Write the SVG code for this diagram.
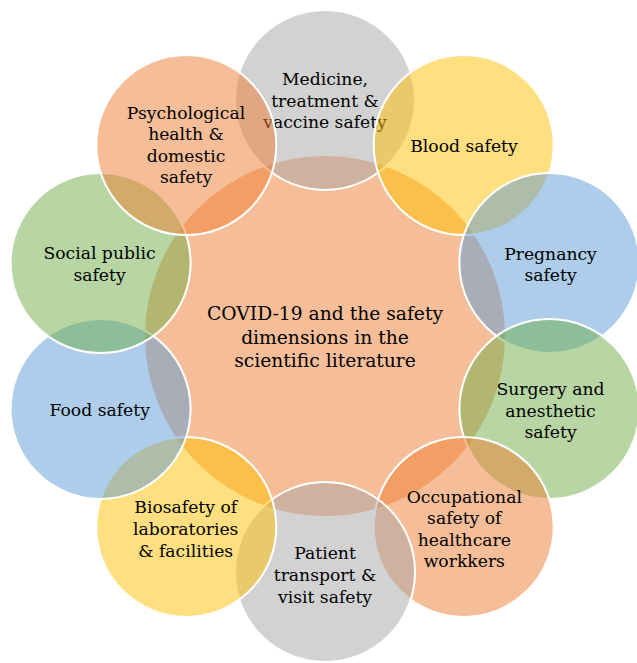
<svg xmlns="http://www.w3.org/2000/svg" width="637" height="663" viewBox="0 0 637 663">
<style>
  .c { stroke: #FFFFFF; stroke-width: 2; fill-opacity: 0.5; }
  .gray { fill: #A5A5A5; }
  .gold { fill: #FFC000; }
  .blue { fill: #5B9BD5; }
  .green { fill: #70AD47; }
  .orange { fill: #ED7D31; }
  text { font-family: "DejaVu Serif", "Liberation Serif", serif; font-size: 17.2px; fill: #000000; text-anchor: middle; }
  .big { font-size: 18.7px; }
</style>
<rect width="637" height="663" fill="#FFFFFF"/>
<g id="connectors"/>
<g id="center">
  <circle class="c orange" cx="325" cy="336" r="181"/>
  <text class="big" x="325" y="320">COVID-19 and the safety</text>
  <text class="big" x="325" y="344">dimensions in the</text>
  <text class="big" x="325" y="367">scientific literature</text>
</g>
<g id="medicine">
  <circle class="c gray" cx="325" cy="100" r="90"/>
  <text x="325" y="85">Medicine,</text>
  <text x="325" y="106.5">treatment &amp;</text>
  <text x="325" y="128">vaccine safety</text>
</g>
<g id="blood">
  <circle class="c gold" cx="463.7" cy="145.1" r="90"/>
  <text x="464" y="151.5">Blood safety</text>
</g>
<g id="pregnancy">
  <circle class="c blue" cx="549.4" cy="263.1" r="90"/>
  <text x="550.5" y="259.5">Pregnancy</text>
  <text x="550.5" y="281">safety</text>
</g>
<g id="surgery">
  <circle class="c green" cx="549.4" cy="408.9" r="90"/>
  <text x="550.5" y="395">Surgery and</text>
  <text x="550.5" y="416.7">anesthetic</text>
  <text x="550.5" y="438.3">safety</text>
</g>
<g id="occupational">
  <circle class="c orange" cx="463.7" cy="526.9" r="90"/>
  <text x="464.3" y="502.7">Occupational</text>
  <text x="464.3" y="524.2">safety of</text>
  <text x="464.3" y="545.8">healthcare</text>
  <text x="464.3" y="567.3">workkers</text>
</g>
<g id="patient">
  <circle class="c gray" cx="325" cy="572" r="90"/>
  <text x="325" y="559.3">Patient</text>
  <text x="325" y="581">transport &amp;</text>
  <text x="325" y="602.7">visit safety</text>
</g>
<g id="biosafety">
  <circle class="c gold" cx="186.3" cy="526.9" r="90"/>
  <text x="185.7" y="513.3">Biosafety of</text>
  <text x="185.7" y="535">laboratories</text>
  <text x="185.7" y="556.7">&amp; facilities</text>
</g>
<g id="food">
  <circle class="c blue" cx="100.6" cy="408.9" r="90"/>
  <text x="99.7" y="416">Food safety</text>
</g>
<g id="social">
  <circle class="c green" cx="100.6" cy="263.1" r="90"/>
  <text x="99.5" y="259.3">Social public</text>
  <text x="99.5" y="280.8">safety</text>
</g>
<g id="psychological">
  <circle class="c orange" cx="186.3" cy="145.1" r="90"/>
  <text x="186" y="118.5">Psychological</text>
  <text x="186" y="140.2">health &amp;</text>
  <text x="186" y="161.8">domestic</text>
  <text x="186" y="183.4">safety</text>
</g>
</svg>
